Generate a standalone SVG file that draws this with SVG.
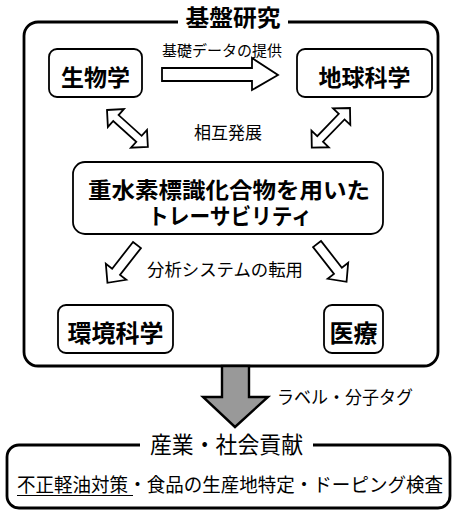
<svg xmlns="http://www.w3.org/2000/svg" width="455" height="516" viewBox="0 0 455 516">
<style>
text{font-family:"Noto Sans CJK JP","Noto Sans CJK SC",sans-serif;fill:#000}
.b{font-weight:bold}
.box{fill:#fff;stroke:#000;stroke-width:1.8}
.frame{fill:none;stroke:#000;stroke-width:2.8}
.ha{fill:#fff;stroke:#000;stroke-width:1.8;stroke-linejoin:miter}
</style>
<rect width="455" height="516" fill="#fff"/>
<g id="frame-top">
<path class="frame" d="M178,22 H38 A14,14 0 0 0 24,36 V352 A14,14 0 0 0 38,366 H424 A14,14 0 0 0 438,352 V36 A14,14 0 0 0 424,22 H288"/>
<text class="b" x="233" y="25.5" font-size="23" text-anchor="middle" textLength="95" lengthAdjust="spacingAndGlyphs">基盤研究</text>
</g>
<g id="node-bio">
<rect class="box" x="49" y="49" width="93" height="48" rx="8"/>
<text class="b" x="95.5" y="85.5" font-size="23" text-anchor="middle">生物学</text>
</g>
<g id="node-earth">
<rect class="box" x="297" y="49" width="135" height="48" rx="8"/>
<text class="b" x="364.5" y="85.5" font-size="23" text-anchor="middle">地球科学</text>
</g>
<g id="node-center">
<rect class="box" x="73" y="162" width="310" height="72" rx="12"/>
<text class="b" font-size="22" text-anchor="middle"><tspan x="229" y="198" textLength="282" lengthAdjust="spacingAndGlyphs">重水素標識化合物を用いた</tspan><tspan x="230" y="224" textLength="164" lengthAdjust="spacingAndGlyphs">トレーサビリティ</tspan></text>
</g>
<g id="node-env">
<rect class="box" x="58" y="305" width="115" height="48" rx="8"/>
<text class="b" x="115.5" y="341.5" font-size="24" text-anchor="middle">環境科学</text>
</g>
<g id="node-med">
<rect class="box" x="324" y="305" width="59" height="48" rx="8"/>
<text class="b" x="353.5" y="341.5" font-size="24" text-anchor="middle">医療</text>
</g>
<g id="connectors">
<polygon class="ha" points="162,68 252,68 252,58 278,75 252,90 252,81 162,81"/>
<text x="222" y="56" font-size="15" text-anchor="middle" textLength="120" lengthAdjust="spacingAndGlyphs">基礎データの提供</text>
<polygon class="ha" transform="translate(107,110) rotate(42)" points="0,0 12,-12 12,-4 43,-4 43,-12 55,0 43,12 43,4 12,4 12,12"/>
<polygon class="ha" transform="translate(350,108) rotate(134)" points="0,0 12,-12 12,-4 43,-4 43,-12 55,0 43,12 43,4 12,4 12,12"/>
<text x="228" y="139" font-size="17" text-anchor="middle">相互発展</text>
<polygon class="ha" transform="translate(137,245) rotate(128)" points="0,-5 34,-5 34,-13 48,0 34,13 34,5 0,5"/>
<polygon class="ha" transform="translate(317,244) rotate(52)" points="0,-5 34,-5 34,-13 48,0 34,13 34,5 0,5"/>
<text x="225" y="276" font-size="17" text-anchor="middle" textLength="156" lengthAdjust="spacingAndGlyphs">分析システムの転用</text>
<polygon fill="#999" stroke="#000" stroke-width="2.4" points="222,366 249,366 249,397 268,397 235,427 203,397 222,397"/>
<text x="345" y="404" font-size="18" text-anchor="middle" textLength="136" lengthAdjust="spacingAndGlyphs">ラベル・分子タグ</text>
</g>
<g id="frame-bottom">
<path class="frame" d="M140,445 H19 A12,12 0 0 0 7,457 V496 A12,12 0 0 0 19,508 H438 A12,12 0 0 0 450,496 V457 A12,12 0 0 0 438,445 H313"/>
<text x="226.5" y="453" font-size="23" text-anchor="middle" textLength="153" lengthAdjust="spacingAndGlyphs">産業・社会貢献</text>
<text x="230" y="492" font-size="19" text-anchor="middle" textLength="426" lengthAdjust="spacingAndGlyphs">不正軽油対策・食品の生産地特定・ドーピング検査</text>
<line x1="17" y1="495.5" x2="133" y2="495.5" stroke="#000" stroke-width="1.2"/>
</g>
</svg>
